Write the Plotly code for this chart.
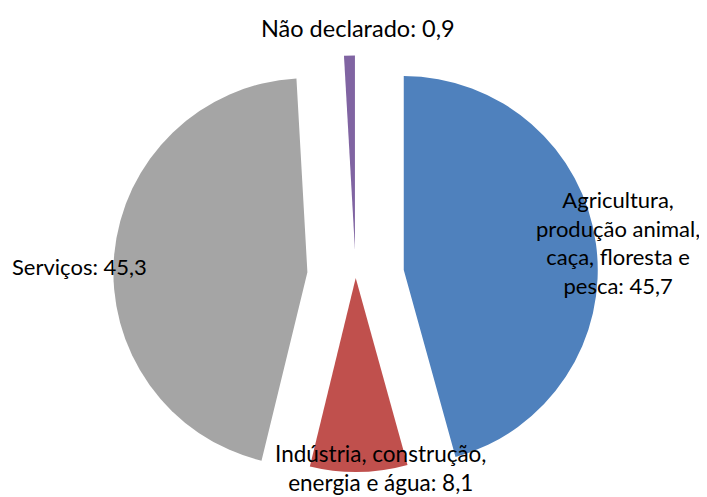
import math
import plotly.graph_objects as go

# ---- data ----
labels = ["Agricultura,<br>produção animal,<br>caça, floresta e<br>pesca",
          "Indústria, construção,<br>energia e água",
          "Serviços",
          "Não declarado"]
values = [45.7, 8.1, 45.3, 0.9]

# ---- style ----
colors = ["#4F81BD", "#C0504D", "#A5A5A5", "#8064A2"]
pulls = [0.25, 0.007, 0.25, 0.14]          # explosion as fraction of radius
OFF = 8                                     # page body margin in the browser
W, H = 707 - OFF, 497 - OFF
CX, CY, R = 355.7 - OFF, 276.6 - OFF, 194.0  # pie centre / radius in figure pixels
label_pos = [(618, 243), (380, 468), (79, 266), (358, 28)]   # label centres (page px)
label_size = [22, 22.5, 22, 23.5]
FONT = "Lato"

fig = go.Figure()
total = sum(values)
cum = 0.0
for i, v in enumerate(values):
    mid = 2 * math.pi * (cum + v / 2) / total
    cum += v
    cx = CX + pulls[i] * R * math.sin(mid)
    cy = CY - pulls[i] * R * math.cos(mid)
    cols = [colors[j] if j == i else "rgba(0,0,0,0)" for j in range(len(values))]
    fig.add_trace(go.Pie(
        labels=[l.replace("<br>", " ") for l in labels],
        values=values,
        sort=False,
        direction="clockwise",
        rotation=0,
        marker=dict(colors=cols, line=dict(width=0)),
        textinfo="none",
        hoverinfo="skip",
        showlegend=False,
        domain=dict(x=[(cx - R) / W, (cx + R) / W],
                    y=[1 - (cy + R) / H, 1 - (cy - R) / H]),
    ))

for i, (lab, v) in enumerate(zip(labels, values)):
    txt = f"{lab}: {v:.1f}".replace(".", ",")
    px, py = label_pos[i]
    fig.add_annotation(text=txt, x=(px - OFF) / W, y=1 - (py - OFF) / H,
                       xref="paper", yref="paper",
                       xanchor="center", yanchor="middle", showarrow=False,
                       align="center",
                       font=dict(family=FONT, size=label_size[i], color="#000000"))

fig.update_layout(width=W, height=H, margin=dict(l=0, r=0, t=0, b=0),
                  paper_bgcolor="white", plot_bgcolor="white")
fig.write_html("out.html")
